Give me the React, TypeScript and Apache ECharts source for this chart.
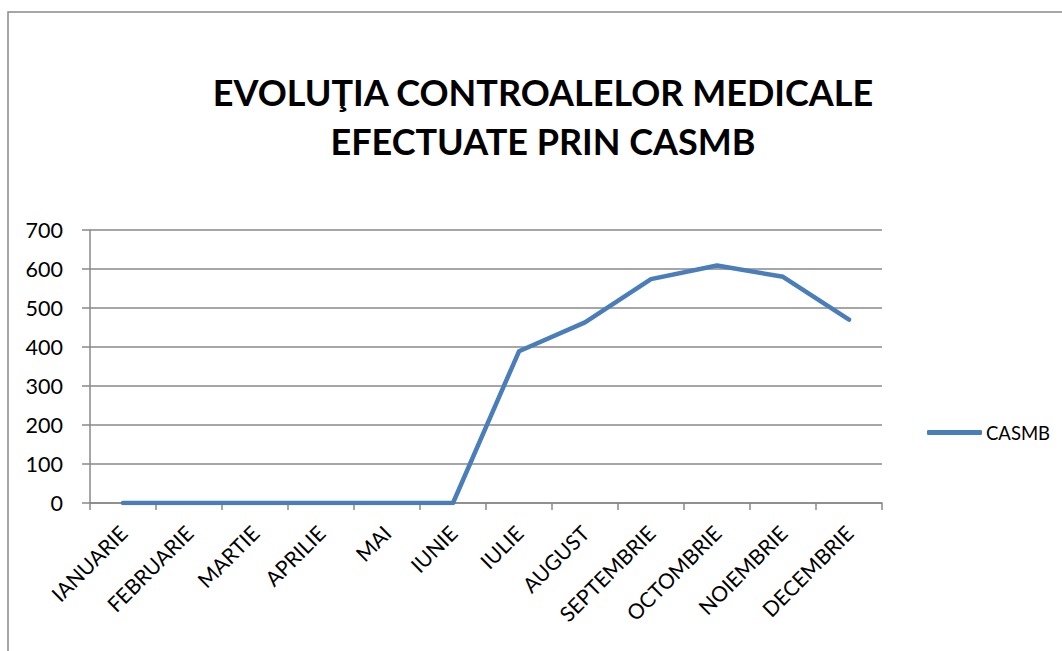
import React, { useEffect, useRef } from "react";
import * as echarts from "echarts";

const titleLines = ["EVOLUŢIA CONTROALELOR MEDICALE", "EFECTUATE PRIN CASMB"];
const months = [
  "IANUARIE", "FEBRUARIE", "MARTIE", "APRILIE", "MAI", "IUNIE",
  "IULIE", "AUGUST", "SEPTEMBRIE", "OCTOMBRIE", "NOIEMBRIE", "DECEMBRIE",
];
const seriesName = "CASMB";
const casmbValues = [0, 0, 0, 0, 0, 0, 389, 463, 574, 609, 580, 470];
const yMin = 0;
const yMax = 700;
const yStep = 100;

const FONT = "Lato, 'Open Sans', sans-serif";

export default function App() {
  const ref = useRef<HTMLDivElement>(null);
  useEffect(() => {
    if (!ref.current) return;
    const chart = echarts.init(ref.current, null, { renderer: "svg" });
    chart.setOption({
      animation: false,
      backgroundColor: "#ffffff",
      textStyle: { fontFamily: FONT },
      title: {
        text: titleLines.join("\n"),
        left: 538,
        textAlign: "center",
        top: 62,
        textStyle: {
          fontFamily: FONT,
          fontSize: 36,
          fontWeight: "bold",
          color: "#000",
          lineHeight: 49,
        },
      },
      graphic: [
        {
          type: "rect",
          shape: { x: 8, y: 12, width: 1080, height: 700 },
          style: { fill: "none", stroke: "#898989", lineWidth: 1.5 },
          silent: true,
        },
      ],
      legend: {
        data: [{ name: seriesName, icon: "roundRect" }],
        left: 922,
        top: 418,
        itemWidth: 55,
        itemHeight: 5,
        itemGap: 4,
        textStyle: { fontFamily: FONT, fontSize: 18.5, color: "#000", padding: [0, 0, 0, -1] },
      },
      grid: { left: 90, right: 180, top: 230, bottom: 148, containLabel: false },
      xAxis: {
        type: "category",
        data: months,
        boundaryGap: true,
        axisLine: { lineStyle: { color: "#888", width: 1.5 } },
        axisTick: { show: true, length: 7, lineStyle: { color: "#888", width: 1.5 } },
        axisLabel: {
          rotate: 45,
          margin: 26,
          interval: 0,
          fontFamily: FONT,
          fontSize: 21,
          color: "#000",
        },
      },
      yAxis: {
        type: "value",
        min: yMin,
        max: yMax,
        interval: yStep,
        axisLine: { show: true, lineStyle: { color: "#888", width: 1.5 } },
        axisTick: { show: true, length: 8, lineStyle: { color: "#888", width: 1.5 } },
        splitLine: { lineStyle: { color: "#888", width: 1.5 } },
        axisLabel: {
          margin: 27,
          fontFamily: FONT,
          fontSize: 21.5,
          color: "#000",
        },
      },
      series: [
        {
          name: seriesName,
          type: "line",
          data: casmbValues,
          symbol: "none",
          lineStyle: { color: "#4a7ebb", width: 4.5, cap: "round", join: "round" },
          itemStyle: { color: "#4a7ebb" },
        },
      ],
    });
    return () => chart.dispose();
  }, []);
  return (
    <div
      ref={ref}
      style={{ position: "absolute", left: 0, top: 0, width: 1062, height: 651 }}
    />
  );
}
